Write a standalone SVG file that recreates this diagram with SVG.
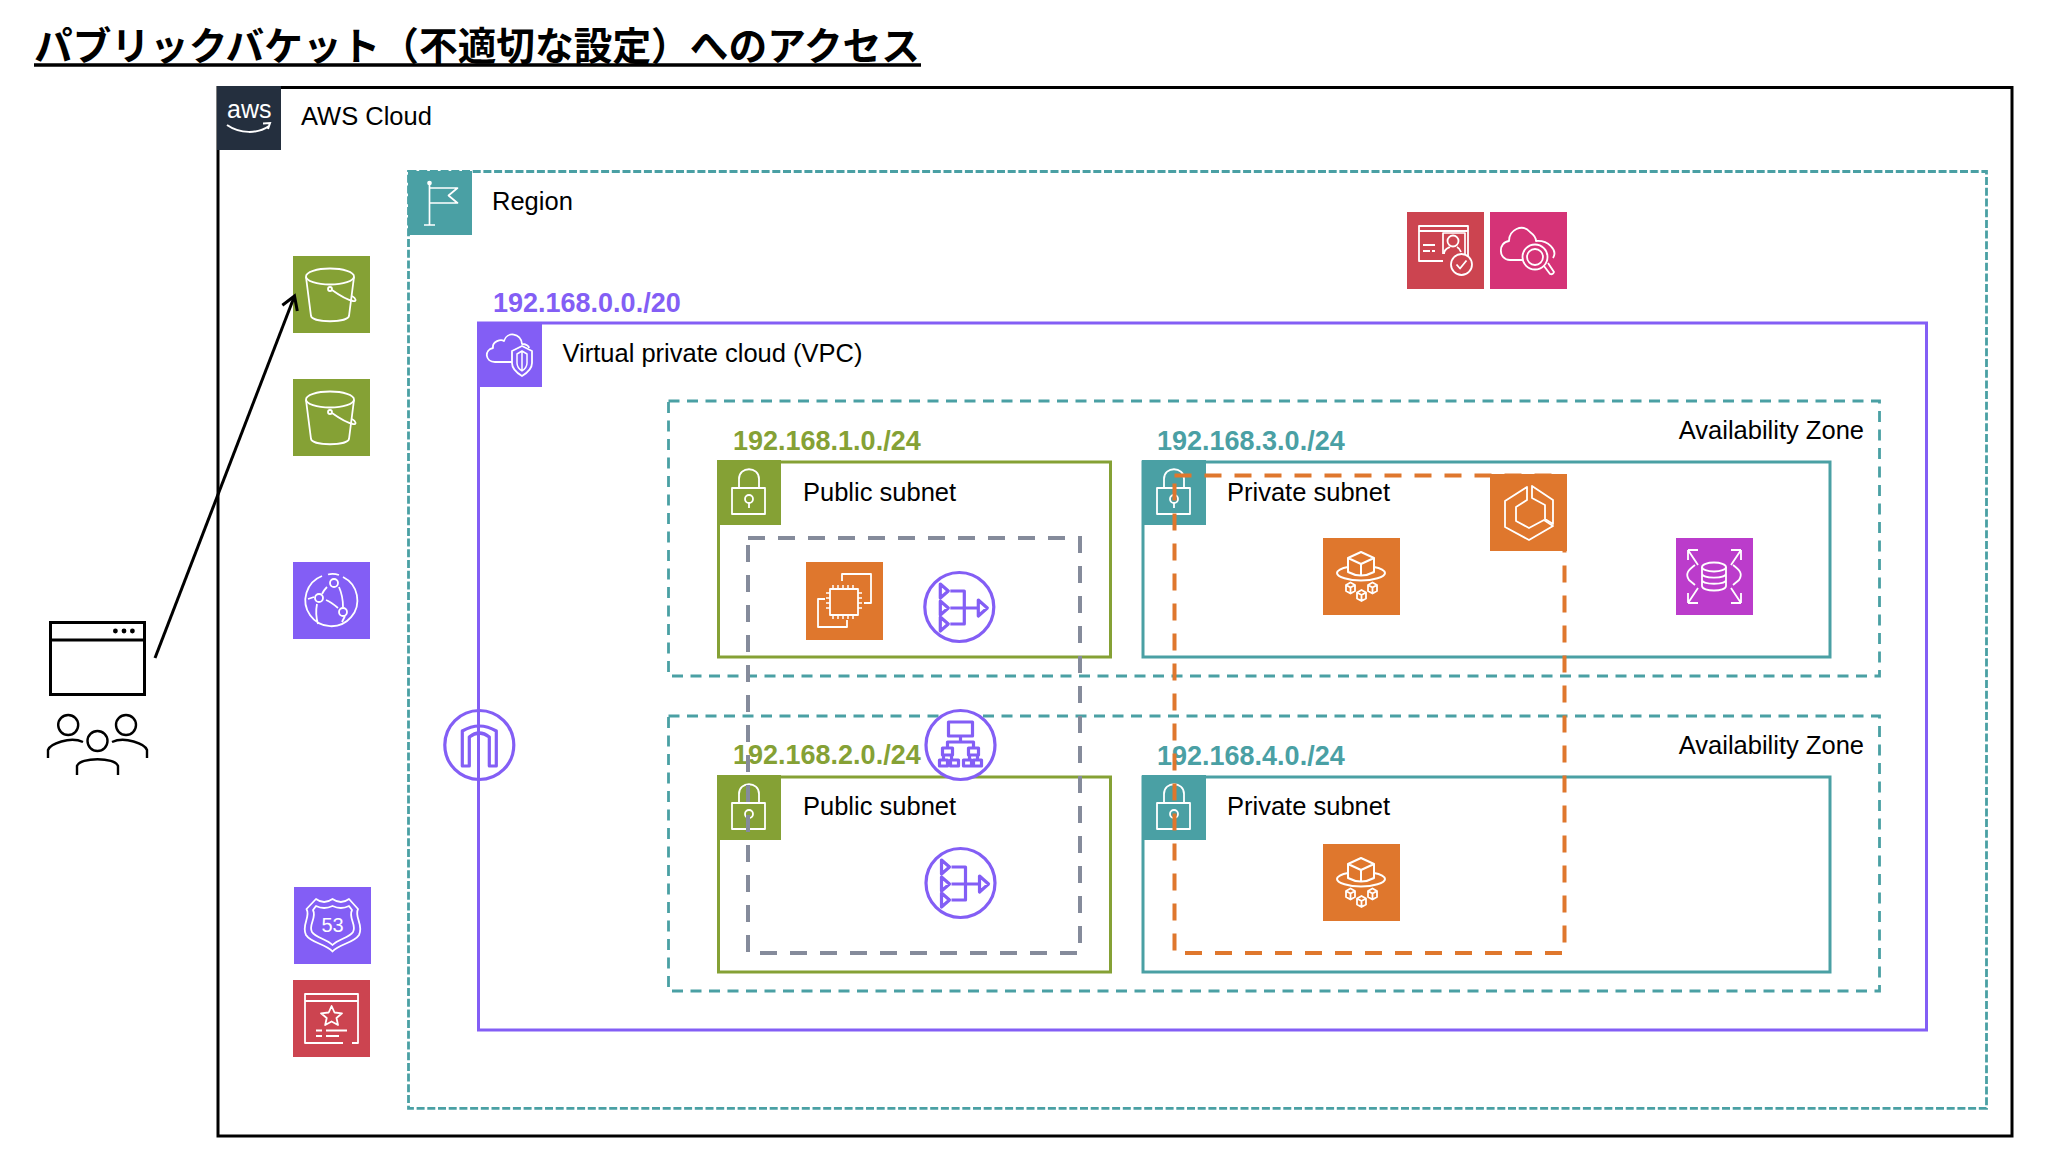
<svg xmlns="http://www.w3.org/2000/svg" width="2052" height="1154" viewBox="0 0 2052 1154">
<style>
text{font-family:"Liberation Sans",Arial,"Noto Sans CJK JP",sans-serif}
.t{font-size:25.5px;fill:#000}
.lb{font-size:27px;font-weight:bold}
.ic{fill:none;stroke:#fff;stroke-width:1.800;stroke-linejoin:round}
.ci{fill:none;stroke:#835EF5;stroke-width:3.200;stroke-linejoin:round}
.k{fill:none;stroke:#000;stroke-width:3}
</style>
<defs>
<marker id="arr" markerUnits="userSpaceOnUse" markerWidth="22" markerHeight="22" refX="15" refY="11" orient="auto"><path d="M2 3 L15 11 L2 19" fill="none" stroke="#000" stroke-width="3"/></marker>
<g id="lock" class="ic"><rect x="15" y="28" width="33" height="26"/><path d="M22 28V19C22 6 42 6 42 19V28"/><circle cx="32" cy="39" r="4"/><path d="M32 43V48"/></g>
<g id="bucket" class="ic"><ellipse cx="37" cy="20.500" rx="24" ry="8"/><path d="M13 21L18 60C20 67 54 67 56 60L61 21"/><circle cx="37" cy="33" r="2"/><path d="M39 34C46 39 55 44 60 45C64 46 63 42 59 40"/></g>
<g id="fargate" class="ic"><path d="M38 14L51 20V34Q38 41 25 34V20ZM25 20L38 26L51 20M38 26V38" stroke-width="2"/><path d="M25 29C18 30 14 33 14 35C14 39 26 42.500 38 42.500C50 42.500 62 39 62 35C62 33 58 30 51 29" stroke-width="2"/><path d="M27.500 44.500L32 47V53L27.500 55.500L23 53V47ZM23 47L27.500 49.500L32 47M27.500 49.500V55"/><path d="M38.500 52L43 54.500V60.500L38.500 63L34 60.500V54.500ZM34 54.500L38.500 57L43 54.500M38.500 57V62.500"/><path d="M49.500 44.500L54 47V53L49.500 55.500L45 53V47ZM45 47L49.500 49.500L54 47M49.500 49.500V55"/></g>
<g id="nat" class="ci"><circle r="34.500" style="fill:#fff"/><path d="M-19 -23L-11 -16L-19 -9ZM-19 -6L-11 1L-19 8ZM-19 10L-11 17L-19 24ZM-9 -16H5V17H-9M-9 1H19M19 -7L28 1L19 9Z"/></g>
</defs>

<g id="title">
<text x="34" y="60" font-size="38.700" font-weight="bold" fill="#000" style="font-family:'Noto Sans CJK JP',sans-serif">パブリックバケット（不適切な設定）へのアクセス</text>
<line x1="34" y1="65" x2="921" y2="65" stroke="#000" stroke-width="3.400"/>
</g>

<g id="aws-cloud">
<rect x="218" y="87.500" width="1794" height="1048.500" fill="#fff" stroke="#000" stroke-width="3"/>
<rect x="217" y="86" width="64" height="64" fill="#242F3E"/>
<text x="227" y="118" font-size="25" fill="#fff">aws</text>
<path d="M227 125C240 134 258 134 269 126M263 123.500L270 123L268 129" fill="none" stroke="#fff" stroke-width="2"/>
<text class="t" x="301" y="125">AWS Cloud</text>
</g>

<g id="region">
<rect x="408.500" y="171.500" width="1578" height="936.800" fill="none" stroke="#4AA0A4" stroke-width="2.800" stroke-dasharray="8 2.700"/>
<rect x="408" y="171" width="64" height="64" fill="#4AA0A4"/>
<g class="ic" transform="translate(408 171)" style="stroke-width:1.700"><circle cx="21.500" cy="12" r="1.500" fill="#fff"/><path d="M21.500 12V54M16 54H27M21.500 17H49.500L40.500 24.500L49.500 32H21.500"/></g>
<text class="t" x="492" y="210">Region</text>
</g>

<g id="vpc">
<rect x="478.500" y="323" width="1448" height="707" fill="none" stroke="#835EF5" stroke-width="3"/>
<rect x="478" y="322" width="64" height="65" fill="#835EF5"/>
<g class="ic" transform="translate(477 321)"><path d="M35 41H18C8 41 7 29 16 27C15 20 24 18 27 20C30 10 44 12 45 23C49 23 52 25 52 27"/><path d="M45 25L55 30V42C55 48 50 52 45 55C40 52 35 48 35 42V30Z"/><path d="M45 30L50 33V42C50 45 48 48 45 50C42 48 40 45 40 42V33ZM45 30V50" stroke-width="1.500"/></g>
<text class="t" x="562.500" y="362">Virtual private cloud (VPC)</text>
<text class="lb" x="493" y="312" fill="#835EF5">192.168.0.0./20</text>
</g>

<g id="az-1">
<rect x="668.500" y="401" width="1211" height="275" fill="none" stroke="#4AA0A4" stroke-width="2.800" stroke-dasharray="11 7.500"/>
<text class="t" x="1864" y="439" text-anchor="end">Availability Zone</text>
</g>
<g id="az-2">
<rect x="668.500" y="716" width="1211" height="275" fill="none" stroke="#4AA0A4" stroke-width="2.800" stroke-dasharray="11 7.500"/>
<text class="t" x="1864" y="754" text-anchor="end">Availability Zone</text>
</g>

<g id="public-subnet-1">
<rect x="718.500" y="462" width="392" height="195" fill="none" stroke="#85A135" stroke-width="3"/>
<rect x="717" y="460" width="64" height="65" fill="#85A135"/>
<use href="#lock" transform="translate(717 460)"/>
<text class="t" x="803" y="501">Public subnet</text>
<text class="lb" x="733" y="450" fill="#85A135">192.168.1.0./24</text>
</g>
<g id="private-subnet-1">
<rect x="1143" y="462" width="687" height="195" fill="none" stroke="#4AA0A4" stroke-width="3"/>
<rect x="1142" y="460" width="64" height="65" fill="#4AA0A4"/>
<use href="#lock" transform="translate(1142 460)"/>
<text class="t" x="1227" y="501">Private subnet</text>
<text class="lb" x="1157" y="450" fill="#4AA0A4">192.168.3.0./24</text>
</g>
<g id="public-subnet-2">
<rect x="718.500" y="777" width="392" height="195" fill="none" stroke="#85A135" stroke-width="3"/>
<rect x="717" y="775" width="64" height="65" fill="#85A135"/>
<use href="#lock" transform="translate(717 775)"/>
<text class="t" x="803" y="815">Public subnet</text>
<text class="lb" x="733" y="764" fill="#85A135">192.168.2.0./24</text>
</g>
<g id="private-subnet-2">
<rect x="1143" y="777" width="687" height="195" fill="none" stroke="#4AA0A4" stroke-width="3"/>
<rect x="1142" y="775" width="64" height="65" fill="#4AA0A4"/>
<use href="#lock" transform="translate(1142 775)"/>
<text class="t" x="1227" y="815">Private subnet</text>
<text class="lb" x="1157" y="765" fill="#4AA0A4">192.168.4.0./24</text>
</g>

<g id="ec2-group">
<rect x="748" y="538" width="332" height="415" fill="none" stroke="#858B9B" stroke-width="4" stroke-dasharray="17 13"/>
</g>
<g id="ecs-group">
<rect x="1174.500" y="475.500" width="390" height="477.500" fill="none" stroke="#DF772D" stroke-width="4" stroke-dasharray="17 13"/>
</g>

<g id="s3-1"><rect x="293" y="256" width="77" height="77" fill="#85A135"/><use href="#bucket" transform="translate(293 256)"/></g>
<g id="s3-2"><rect x="293" y="379" width="77" height="77" fill="#85A135"/><use href="#bucket" transform="translate(293 379)"/></g>

<g id="cloudfront"><rect x="293" y="562" width="77" height="77" fill="#835EF5"/>
<g class="ic" transform="translate(293 562)"><path d="M29 14A26 26 0 1 0 50 15M35 12.500Q40 11 46 13M34 25Q31 28 29 32M46 25Q50 34 50 45M33 38Q38 40 45 46M21 35L15 37M24 42Q22 52 25 62M52 54L49 60"/><circle cx="41" cy="21" r="4"/><circle cx="26" cy="36" r="4"/><circle cx="50" cy="50" r="4"/></g></g>

<g id="route53"><rect x="294" y="887" width="77" height="77" fill="#835EF5"/>
<g class="ic" transform="translate(294 887)" style="stroke-width:1.800"><path d="M22 12Q30 18 38.500 12Q47 18 55 12L64 22C60 30 70 38 65 48C60 56 45 57 38.500 64.500C32 57 17 56 12 48C7 38 17 30 12.500 22Z"/><path d="M22 19Q30 23 38.500 19Q47 23 55 19L58 23C54 31 63 38 59 45C55 51 44 52 38.500 58C33 52 22 51 18 45C14 38 23 31 19 23Z"/></g>
<text x="332.500" y="932" font-size="20" fill="#fff" text-anchor="middle">53</text></g>

<g id="certificate"><rect x="293" y="980" width="77" height="77" fill="#CC4450"/>
<g class="ic" transform="translate(293 980)"><path d="M50 63H12V14H65V63H59M12 21H65"/><path d="M38.600 26L41.500 32.500L49 33.300L43.500 38L45 45L38.600 41.500L32.200 45L33.700 38L28 33.300L35.700 32.500Z"/><path d="M23 50.500H29M33 50.500H54M23 56H29M33 56H46"/></g></g>

<g id="identity"><rect x="1407" y="212" width="77" height="77" fill="#CC4450"/>
<g class="ic" transform="translate(1407 212)"><path d="M36 49H12V14H61V44"/><path d="M12 19H61"/><path d="M36 42V21H58V43" stroke-width="1.700"/><circle cx="46" cy="29" r="5.500"/><path d="M37 42C37 37 41 36 43 35M50 35C52 36 53 37 54 40"/><path d="M16 33H28M16 39H23M25 39H28"/><circle cx="54.500" cy="52.500" r="10.500"/><path d="M49.500 52.500L53 56.500L59.500 48.500"/></g></g>

<g id="inspector"><rect x="1490" y="212" width="77" height="77" fill="#D53377"/>
<g class="ic" transform="translate(1490 212)"><path d="M33 48H20C8 48 8 30 19 29C19 18 32 11 40 20C44 23 46 27 46 29C58 28 68 38 63 46"/><circle cx="45" cy="45" r="12.500"/><circle cx="45" cy="45" r="8"/><path d="M54 54L60 62Q63 63 64 60L58 51"/></g></g>

<g id="ecs"><rect x="1490" y="474" width="77" height="77" fill="#DF772D"/>
<g class="ic" transform="translate(1490 474)"><path d="M37 13L15 27V53L39 66L63 52L54 46L39 54L26 47V33L37 26Z"/><path d="M42 12L63 26V50L55 45V31L42 24Z"/></g></g>

<g id="fargate-1"><rect x="1323" y="538" width="77" height="77" fill="#DF772D"/><use href="#fargate" transform="translate(1323 538)"/></g>
<g id="fargate-2"><rect x="1323" y="844" width="77" height="77" fill="#DF772D"/><use href="#fargate" transform="translate(1323 844)"/></g>

<g id="rds"><rect x="1676" y="538" width="77" height="77" fill="#BB3CCB"/>
<g class="ic" transform="translate(1676 538)"><ellipse cx="38" cy="29" rx="12" ry="4.500"/><path d="M26 29V48C26 54 50 54 50 48V29M26 35.500C26 41 50 41 50 35.500M26 42C26 47 50 47 50 42"/><path d="M19 27C12 32 9 36 13 42L19 47M57 27C64 32 67 36 63 42L57 47"/><path d="M12 12H22M12 12V22M12 12L22 27M65 12H55M65 12V22M65 12L55 27M12 65H22M12 65V55M12 65L22 50M65 65H55M65 65V55M65 65L55 50"/></g></g>

<g id="ec2"><rect x="806" y="562" width="77" height="78" fill="#DF772D"/>
<g class="ic" transform="translate(806 562)"><path d="M36 19V12H65V41H58M19 37H12V65H41V58"/><rect x="24" y="27" width="28" height="26"/><path d="M27 23V27M32 23V27M37 23V27M42 23V27M47 23V27M27 53V57M32 53V57M37 53V57M42 53V57M47 53V57M20 31H24M20 36H24M20 41H24M20 46H24M52 31H56M52 36H56M52 41H56M52 46H56" stroke-width="1.500"/></g></g>

<g id="nat-1" transform="translate(959.300 607)"><use href="#nat"/></g>
<g id="nat-2" transform="translate(960.500 883)"><use href="#nat"/></g>

<g id="alb" transform="translate(960.500 745)"><g class="ci"><circle r="34.500" style="fill:#fff"/><path d="M-12 -23H12V-9H-12ZM0 -9V-3M-13 3V-3H13V3M-18 3H-8V10H-18ZM8 3H18V10H8ZM-21 15H-13V21H-21ZM-10 15H-2V21H-10ZM3 15H11V21H3ZM13 15H21V21H13ZM-17 10V15M-9 10V15M9 10V15M17 10V15"/></g></g>

<g id="igw" transform="translate(479.300 745)"><g class="ci"><circle r="34.500"/><path d="M-17 21V-14Q0 -24 17 -14V21H10V-8Q0 -16 -10 -8V21Z"/></g></g>

<g id="browser"><rect class="k" x="50.500" y="622.500" width="94" height="72"/><line class="k" x1="50" y1="640" x2="145" y2="640"/><circle cx="115.400" cy="631" r="2.400"/><circle cx="124" cy="631" r="2.400"/><circle cx="132.400" cy="631" r="2.400"/></g>

<g id="users" class="k" style="stroke-width:2.400"><circle cx="68.200" cy="725" r="10"/><circle cx="126" cy="725" r="10"/><circle cx="97.500" cy="741" r="10"/><path d="M48 758V750C50 744 70 736 83 742"/><path d="M147 758V750C145 744 125 736 112 742"/><path d="M77 775V766C80 757 115 757 118 766V775"/></g>

<g id="connectors"><line x1="155" y1="658" x2="294.500" y2="296" stroke="#000" stroke-width="3" marker-end="url(#arr)"/></g>
</svg>
